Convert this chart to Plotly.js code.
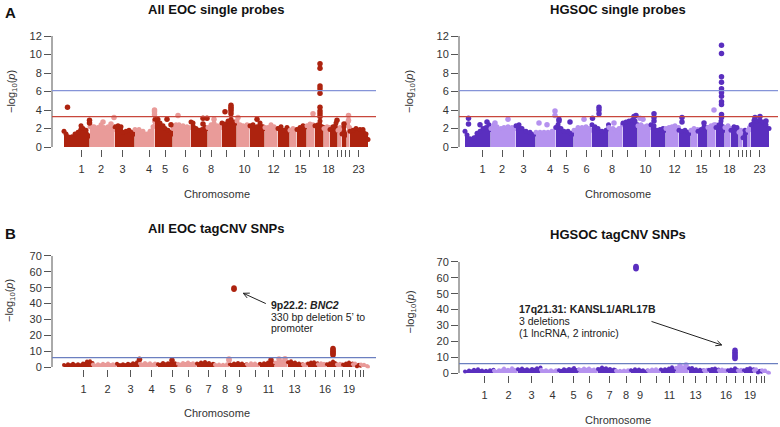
<!DOCTYPE html>
<html><head><meta charset="utf-8">
<script src="https://cdn.plot.ly/plotly-3.0.1.min.js"></script>
<style>html,body{margin:0;padding:0;background:#fff}#chart{width:780px;height:427px}</style>
</head><body><div id="chart"></div>
<script>
// ---------- Panel A: single probes (position index units) ----------
const chromTickPosA = [18.5,38,59.5,86,102,122.5,137.5,148,163.5,181.5,195,210.5,221,227.5,237.5,246,255.5,265.5,274.5,278,282.5,286.5,295.5];
const chromLabelsA  = ['1','2','3','4','5','6','','8','','10','','12','','','15','','','18','','','','','23'];
const chromStartA   = [1,27,52,72,92,110,128,145,159,174,187,202,215,227,234,244,252,261,267,275,279,284,287];

// All EOC single probes: upper envelope of the dense point cloud
const eocProbePos  = [1,3,5,9,12,15,18,20,23,26.5, 27,29,31,35,38,41,45,48,51.5, 52,55,58,60,63,66,69,71.5, 72,76,80,84,87,90,91.5,
  92,95,97,100,102,105,108,109.5, 110,113,116,120,124,127.5, 128,130,133,136,139,142,144.5, 145,148,151,154,157,158.5,
  159,162,165,168,171,173.5, 174,177,180,184,186.5, 187,190,194,197,200,201.5, 202,205,208,211,214.5, 215,218,221,224,226.5,
  227,230,233.5, 234,237,240,243.5, 244,247,250,251.5, 252,255,257,259,260.5, 261,264,266.5, 267,270,273,274.5,
  275,277,278.5, 279,281,283.5, 284,285.5,286.5, 287,290,293,297,300,303,305];
const eocProbeLogP = [1.7,1.4,1.1,1.1,1.4,1.6,2.3,2.0,1.8,1.2, 2.2,2.2,2.2,2.1,2.4,2.1,2.2,2.0,1.9, 2.2,2.3,2.2,1.6,1.7,1.8,1.6,1.4, 1.9,1.9,1.7,1.4,1.7,2.2,2.8,
  3.0,3.0,2.6,2.3,2.0,1.8,1.6,1.4, 2.0,2.4,2.4,2.3,2.2,2.1, 2.7,2.6,2.0,1.8,1.9,2.1,2.0, 2.1,2.4,2.6,2.3,2.3,2.1,
  2.6,2.5,2.8,3.0,2.7,2.6, 2.8,2.4,2.3,2.4,2.2, 2.3,2.4,2.2,2.6,2.2,2.0, 2.1,2.1,2.4,2.2,2.0, 2.0,2.2,1.8,2.1,1.8,
  1.8,2.0,1.9, 1.9,2.1,2.3,2.2, 2.3,2.5,2.4,2.3, 2.3,2.4,2.8,2.2,2.1, 2.0,2.2,2.1, 1.9,2.2,2.6,1.8,
  1.8,2.1,1.8, 1.4,2.2,1.3, 2.6,2.8,2.1, 1.7,1.8,2.0,1.9,1.9,1.4,0.8];
const eocProbeHitPos  = [4.5,26.5,26.5,40,48,51,91.5,91.5,91.5,104,108,115,140,140,144,151,162,168,168,168,168,168,175,194,250,
  257,257,257,257,257,257,257,257,257,274,281,285.5,285.5];
const eocProbeHitLogP = [4.3,2.9,2.6,2.7,2.5,3.2,3.5,3.8,4.0,3.0,2.4,3.4,3.1,2.5,3.1,3.0,3.8,3.6,3.9,4.1,4.3,4.5,3.2,3.0,3.6,
  3.3,3.6,3.9,4.3,5.8,6.3,6.6,8.5,9.0,2.9,2.5,3.4,2.9];

// HGSOC single probes
const hgsocProbePos  = [1,3,6,10,13,16,19,22,25,26.5, 27,30,33,37,40,44,48,51.5, 52,55,58,62,66,71.5, 72,76,80,84,88,91.5,
  92,94,97,100,104,107,109.5, 110,114,118,122,125,127.5, 128,131,134,138,142,144.5, 145,149,152,155,158.5,
  159,162,165,168,171,173.5, 174,177,180,183,186.5, 187,190,193,196,199,201.5, 202,205,208,211,214.5, 215,218,221,224,226.5,
  227,230,233.5, 234,237,240,243.5, 244,247,250,251.5, 252,255,257,259,260.5, 261,264,266.5, 267,270,273,274.5,
  275,277,278.5, 279,281,283.5, 284,285.5,286.5, 287,290,293,296,299,302,305];
const hgsocProbeLogP = [1.7,1.3,0.9,1.0,1.5,1.7,2.0,2.1,2.4,1.9, 2.0,2.4,2.2,2.0,2.1,2.2,2.1,2.0, 2.3,2.4,2.0,1.7,1.6,1.4, 1.6,1.6,1.6,1.6,1.7,2.1,
  2.1,2.4,2.0,1.7,1.7,1.5,1.4, 1.8,2.1,2.1,2.2,2.0,1.8, 2.4,2.2,2.0,1.7,1.8,2.4, 2.1,2.0,1.8,2.0,2.4,
  2.6,2.7,2.8,2.9,2.8,2.4, 2.3,2.4,2.2,2.3,2.1, 2.4,2.3,1.8,1.9,2.0,1.8, 2.0,2.1,2.2,2.3,2.1, 1.8,1.7,1.8,1.6,1.5,
  1.8,2.0,1.9, 1.7,1.9,2.2,2.1, 2.1,2.3,2.4,2.4, 2.1,2.4,2.8,2.2,1.8, 2.1,2.3,2.0, 1.8,2.2,2.1,1.8,
  1.6,1.8,1.6, 1.0,1.8,1.6, 1.8,2.1,1.9, 2.4,2.9,2.8,2.9,2.7,2.4,2.0];
const hgsocProbeHitPos  = [4.5,4.5,16,23,31,44,75,83,91,91,95,95,106,120,128.5,135,135,135,150,170,172,176,179,190,190,190,218,218,240,250,
  257.5,257.5,257.5,257.5,257.5,257.5,257.5,257.5,257.5,257.5,257.5,291,296,302];
const hgsocProbeHitLogP = [3.1,2.5,2.4,2.7,2.6,3.0,2.6,2.4,3.9,3.4,3.0,2.8,2.7,3.0,3.1,4.3,4.0,3.6,2.6,3.3,3.4,3.1,3.0,3.6,3.2,2.8,3.2,2.7,2.6,4.0,
  3.2,3.5,4.6,4.9,5.5,5.9,6.3,7.0,7.6,10.1,11.0,3.2,3.3,2.8];

// ---------- Panel B: tagCNV SNPs ----------
const chromTickPosB = [20.5,44.5,67.5,88.5,109.5,125.5,145.5,162,176,192.5,205.5,219.5,231.5,242,252,262,271,279,286,292.5,297.5,300.5];
const chromLabelsB  = ['1','2','3','4','5','6','7','8','9','','11','','13','','','16','','','19','','',''];
const chromStartB   = [1,30,54,77,95,115,134,152,167,184,197,212,225,240,245,255,264,274,280,290,294,298];

const eocTagPos  = [1,5,10,15,20,24,27,29.5, 30,35,40,45,50,53.5, 54,60,65,70,74,76.5, 77,82,87,92,94.5, 95,100,105,109,112,114.5,
  115,120,125,130,133.5, 134,138,142,146,150,151.5, 152,156,160,164,166.5, 167,171,175,179,183.5, 184,188,192,196.5,
  197,201,205,208,211.5, 212,216,219,222,224.5, 225,228,232,236,239.5, 240,243,244.5, 245,248,251,254.5, 255,258,261,263.5,
  264,267,270,272,273.5, 274,277,279.5, 280,283,286,289.5, 290,292,293.5, 294,296,297.5, 298,301,304,305];
const eocTagLogP = [1.3,1.8,2.0,1.8,2.2,3.4,3.6,2.6, 1.6,1.8,2.0,2.2,1.8,1.6, 2.0,1.8,2.1,2.4,3.0,3.8, 2.2,2.6,2.3,2.2,1.8, 1.8,2.6,2.4,3.3,2.4,1.8,
  2.0,2.6,2.8,2.4,1.8, 2.2,2.8,3.2,2.6,2.0,1.6, 1.4,1.6,1.4,1.8,1.8, 1.8,2.2,2.6,2.2,1.8, 1.8,2.4,2.2,1.8,
  2.0,2.4,2.8,3.8,2.6, 2.8,4.3,3.6,4.6,3.3, 3.0,3.6,2.8,2.2,1.8, 1.6,1.8,1.6, 2.2,2.8,3.0,2.4, 1.8,2.4,2.0,1.6,
  1.8,2.4,3.4,2.6,1.8, 1.6,2.0,1.8, 1.4,2.2,2.8,2.2, 1.8,2.2,1.4, 0.3,1.4,0.8, 1.6,1.4,0.6,0.2];
const eocTagHitPos  = [76.5,109,166,166,171,171,208,216,222,270,270,270,270,270,270];
const eocTagHitLogP = [4.9,4.2,4.2,5.0,49.0,49.8,4.4,5.0,5.2,7.6,8.4,9.2,10.0,10.8,11.7];

const hgsocTagPos  = [1,5,10,14,18,22,26,29.5, 30,35,40,44,48,53.5, 54,58,63,68,73,76.5, 77,82,87,92,94.5, 95,100,105,110,114.5,
  115,120,125,130,133.5, 134,138,142,146,150,151.5, 152,156,160,164,166.5, 167,171,175,179,183.5, 184,188,192,196.5,
  197,201,205,208,211.5, 212,216,219,222,224.5, 225,228,232,236,239.5, 240,243,244.5, 245,248,251,254.5, 255,258,261,263.5,
  264,267,271,272.5,273.5, 274,277,279.5, 280,283,286,289.5, 290,292,293.5, 294,296,297.5, 298,301,304,305];
const hgsocTagLogP = [1.0,1.6,2.0,2.4,1.6,1.4,1.8,2.0, 1.4,1.8,2.8,2.0,3.0,2.2, 2.4,2.8,2.4,2.6,3.0,3.4, 2.0,1.8,1.8,1.8,1.6, 1.8,2.4,2.6,3.2,2.0,
  2.4,2.8,2.8,2.2,1.8, 2.6,3.4,3.0,2.6,2.2,1.8, 1.4,1.4,1.6,1.8,1.6, 1.8,2.4,2.2,1.8,1.6, 1.8,2.2,2.4,2.0,
  2.2,2.4,2.8,3.6,2.4, 3.3,4.4,3.3,4.6,2.8, 3.0,3.2,2.4,2.0,1.8, 1.8,2.0,1.8, 2.0,2.6,2.8,2.2, 1.8,2.2,1.8,1.6,
  1.8,2.2,3.0,2.2,1.8, 1.6,2.0,1.4, 1.8,2.6,3.0,2.4, 1.8,2.4,1.4, 0.2,1.4,0.8, 1.8,1.6,0.4,0.0];
const hgsocTagHitPos  = [172,172,172,216,222,271,271,271,271,271,271];
const hgsocTagHitLogP = [65.8,66.4,67.1,4.8,5.0,9.1,10.1,11.1,12.1,13.1,14.3];

// thresholds
const probeThresholds = {blue: 6.1, red: 3.28};
const tagThreshold = 5.9;

// colours
const RED_DARK = '#ad230f', RED_LIGHT = '#e99b99';
const PUR_DARK = '#5a2fbf', PUR_LIGHT = '#b592ef';

function chromIndex(p, starts){ let k=0; while(k+1<starts.length && p>=starts[k+1]) k++; return k; }

function panelTraces(envPos, envVal, hitPos, hitVal, starts, xa, ya, dark, light, msize, lw){
  const out = [];
  for(let k=0;k<starts.length;k++){
    const xs=[], ys=[];
    envPos.forEach((p,i)=>{ if(chromIndex(p,starts)===k){ xs.push(p); ys.push(envVal[i]); } });
    const col = k%2===0 ? dark : light;
    out.push({type:'scatter', mode:'lines+markers', x:xs, y:ys, xaxis:xa, yaxis:ya,
      fill:'tozeroy', fillcolor:col, line:{color:col, width:lw, shape:'spline', smoothing:0.6},
      marker:{color:col, size:msize}, hoverinfo:'skip', showlegend:false});
  }
  [0,1].forEach(par=>{
    const xs=[], ys=[];
    hitPos.forEach((p,i)=>{ if(chromIndex(p,starts)%2===par){ xs.push(p); ys.push(hitVal[i]); } });
    out.push({type:'scatter', mode:'markers', x:xs, y:ys, xaxis:xa, yaxis:ya,
      marker:{color: par===0?dark:light, size:5.5}, hoverinfo:'skip', showlegend:false});
  });
  return out;
}

const data = [].concat(
  panelTraces(eocProbePos, eocProbeLogP, eocProbeHitPos, eocProbeHitLogP, chromStartA, 'x', 'y', RED_DARK, RED_LIGHT, 5, 2),
  panelTraces(hgsocProbePos, hgsocProbeLogP, hgsocProbeHitPos, hgsocProbeHitLogP, chromStartA, 'x2', 'y2', PUR_DARK, PUR_LIGHT, 5, 2),
  panelTraces(eocTagPos, eocTagLogP, eocTagHitPos, eocTagHitLogP, chromStartB, 'x3', 'y3', RED_DARK, RED_LIGHT, 4, 1.5),
  panelTraces(hgsocTagPos, hgsocTagLogP, hgsocTagHitPos, hgsocTagHitLogP, chromStartB, 'x4', 'y4', PUR_DARK, PUR_LIGHT, 4, 1.5)
);

const W=780, H=427;
const px = v => v/W, py = v => 1 - v/H;
const FONT = 'Liberation Sans, Arial, sans-serif';
const tickFont = {family:FONT, size:11, color:'#333'};

function xAx(dom, rng, tickvals, ticktext, anchor){
  return {domain:dom, range:rng, anchor:anchor, tickmode:'array', tickvals:tickvals, ticktext:ticktext,
    ticks:'outside', ticklen:7, tickcolor:'#555', tickwidth:1, showline:false, showgrid:false, zeroline:false,
    tickfont:tickFont, ticklabelstandoff:3, fixedrange:true};
}
function yAx(dom, rng, dtick, anchor){
  return {domain:dom, range:rng, anchor:anchor, tickmode:'linear', tick0:0, dtick:dtick,
    ticks:'outside', ticklen:7, tickcolor:'#555', tickwidth:1, showline:false, showgrid:false, zeroline:false,
    tickfont:tickFont, fixedrange:true};
}

const layout = {
  width:W, height:H, margin:{l:0,r:0,t:0,b:0}, paper_bgcolor:'#fff', plot_bgcolor:'rgba(0,0,0,0)',
  showlegend:false, font:{family:FONT, color:'#222'},
  xaxis:  xAx([px(52),px(376)], [-11,313], chromTickPosA, chromLabelsA, 'y'),
  yaxis:  yAx([py(148.85),py(34.15)], [-0.2,12.2], 2, 'x'),
  xaxis2: xAx([px(459),px(778)], [-5,314], chromTickPosA, chromLabelsA, 'y2'),
  yaxis2: yAx([py(148.85),py(34.15)], [-0.2,12.2], 2, 'x2'),
  xaxis3: xAx([px(52),px(376)], [-11,313], chromTickPosB, chromLabelsB, 'y3'),
  yaxis3: yAx([py(368.6),py(254.4)], [-1,71], 10, 'x3'),
  xaxis4: xAx([px(459),px(778)], [-5,314], chromTickPosB, chromLabelsB, 'y4'),
  yaxis4: yAx([py(374.6),py(260.4)], [-1,71], 10, 'x4'),
  shapes: [],
  annotations: []
};

// axis lines (R style: only across the tick range) and threshold lines
[['x','y',12],['x2','y2',12],['x3','y3',70],['x4','y4',70]].forEach(([xa,ya,top])=>{
  layout.shapes.push({type:'line', xref:xa+' domain', yref:ya, x0:0, x1:0, y0:0, y1:top, line:{color:'#555', width:1}});
});
[['x','y'],['x2','y2']].forEach(([xa,ya])=>{
  layout.shapes.push({type:'line', xref:xa+' domain', yref:ya, x0:0, x1:1, y0:probeThresholds.blue, y1:probeThresholds.blue, line:{color:'#8594d8', width:1.2}});
  layout.shapes.push({type:'line', xref:xa+' domain', yref:ya, x0:0, x1:1, y0:probeThresholds.red, y1:probeThresholds.red, line:{color:'#c8473c', width:1.2}});
});
[['x3','y3'],['x4','y4']].forEach(([xa,ya])=>{
  layout.shapes.push({type:'line', xref:xa+' domain', yref:ya, x0:0, x1:1, y0:tagThreshold, y1:tagThreshold, line:{color:'#6b7fc0', width:1.2}});
});

function txt(text, x, y, size, opts){
  return Object.assign({text:text, xref:'paper', yref:'paper', x:px(x), y:py(y), xanchor:'center', yanchor:'middle',
    showarrow:false, font:{family:FONT, size:size, color:'#222'}}, opts||{});
}
const A = layout.annotations;
A.push(txt('<b>A</b>', 10, 12.7, 15, {font:{family:FONT,size:15,color:'#111'}}));
A.push(txt('<b>B</b>', 10, 233, 15, {font:{family:FONT,size:15,color:'#111'}}));
A.push(txt('<b>All EOC single probes</b>', 216.7, 9.3, 13, {font:{family:FONT,size:13,color:'#111'}}));
A.push(txt('<b>HGSOC single probes</b>', 618.3, 9.3, 13, {font:{family:FONT,size:13,color:'#111'}}));
A.push(txt('<b>All EOC tagCNV SNPs</b>', 216.7, 228.3, 13, {font:{family:FONT,size:13,color:'#111'}}));
A.push(txt('<b>HGSOC tagCNV SNPs</b>', 618.3, 235, 13, {font:{family:FONT,size:13,color:'#111'}}));
[[216.7,194.3],[618.3,194.3],[216.7,413.3],[618.3,420]].forEach(([x,y])=>A.push(txt('Chromosome', x, y, 11, {font:{family:FONT,size:11,color:'#333'}})));
[[12,92],[410,92],[10,301],[410,312.5]].forEach(([x,y])=>A.push(txt('−log<sub>10</sub>(<i>p</i>)', x, y, 11, {textangle:-90, font:{family:FONT,size:11,color:'#333'}})));

// callouts
A.push(txt('<b>9p22.2: <i>BNC2</i></b>', 269, 305, 10.5, {xanchor:'left'}));
A.push(txt('330 bp deletion 5’ to', 269, 316.7, 10.5, {xanchor:'left'}));
A.push(txt('promoter', 269, 328.3, 10.5, {xanchor:'left'}));
A.push(txt('<b>17q21.31: KANSL1/ARL17B</b>', 516.7, 309, 10.5, {xanchor:'left'}));
A.push(txt('3 deletions', 516.7, 320.5, 10.5, {xanchor:'left'}));
A.push(txt('(1 lncRNA, 2 intronic)', 516.7, 332.5, 10.5, {xanchor:'left'}));

// arrows with open "V" heads (R arrows() style): shaft + two short arms meeting at the tip
function openArrow(xref, yref, x, y, ax, ay){
  const len = Math.hypot(ax, ay), ux = ax/len, uy = ay/len, arm = 8, ang = 0.45;
  const rot = a => ({x:(ux*Math.cos(a) - uy*Math.sin(a))*arm, y:(ux*Math.sin(a) + uy*Math.cos(a))*arm});
  const base = {text:'', xref:xref, yref:yref, x:x, y:y, showarrow:true, arrowhead:0, arrowwidth:1, arrowcolor:'#222', standoff:0};
  A.push(Object.assign({}, base, {ax:ax, ay:ay}));
  [ang, -ang].forEach(a=>{ const r = rot(a); A.push(Object.assign({}, base, {ax:r.x, ay:r.y})); });
}
openArrow('x3', 'y3', 180.3, 46.5, 24, 11);
openArrow('x4', 'y4', 257.7, 17.7, -71.7, -24);

Plotly.newPlot('chart', data, layout, {displayModeBar:false, staticPlot:true});
</script>
</body></html>
